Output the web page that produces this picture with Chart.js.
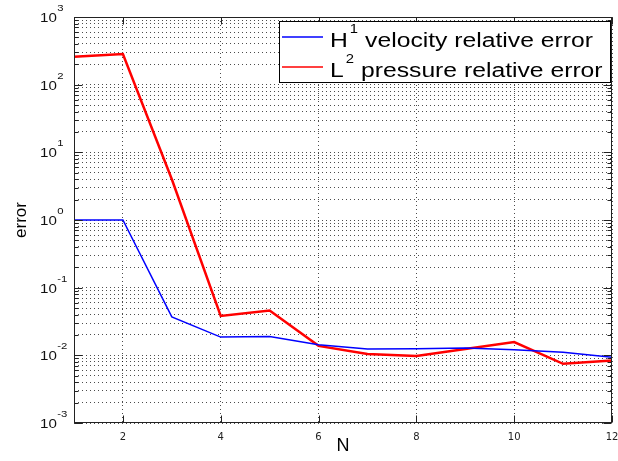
<!DOCTYPE html>
<html><head><meta charset="utf-8">
<script src="https://cdn.jsdelivr.net/npm/chart.js@4/dist/chart.umd.min.js"></script>
<style>html,body{margin:0;padding:0;background:#fff;}#wrap{width:618px;height:461px;}</style>
</head><body><div id="wrap"><canvas id="c" width="618" height="461"></canvas></div>
<script>
// ---- data ----
const N = [1, 2, 3, 4, 5, 6, 7, 8, 9, 10, 11, 12];
const h1Err = [1.0, 1.0, 0.037, 0.0186, 0.019, 0.0143, 0.0124, 0.0125, 0.0128, 0.0121, 0.0111, 0.0094];
const l2Err = [259, 284, 4.0, 0.0383, 0.0459, 0.0138, 0.0105, 0.0098, 0.0124, 0.0157, 0.0075, 0.0084];
const xTicks = [2, 4, 6, 8, 10, 12];
const yDecades = [-3, -2, -1, 0, 1, 2, 3];
const seriesNames = ['H\u00b9 velocity relative error', 'L\u00b2 pressure relative error'];
const legendBase = ['H', 'L'];
const legendSup = ['1', '2'];
const legendRest = ['velocity relative error', 'pressure relative error'];
const seriesColors = ['#0000ff', '#ff0000'];
const xTitle = 'N';
const yTitle = 'error';

const FONT = '"Liberation Sans", Arial, sans-serif';
const SX = 1.26;   // horizontal stretch seen in the reference (tick labels)
const SXL = 1.235; // legend text stretch

function stretchedText(ctx, str, x, y, font, sx) {
  ctx.save();
  ctx.font = font;
  const w = ctx.measureText(str).width * sx;
  ctx.translate(x, y);
  ctx.scale(sx, 1);
  ctx.fillText(str, 0, 0);
  ctx.restore();
  return w;
}

const decor = {
  id: 'decor',
  afterDraw(chart) {
    const {ctx, chartArea: a, scales: {x, y}} = chart;
    ctx.save();
    ctx.strokeStyle = '#222';
    ctx.lineWidth = 1;
    const L = Math.round(a.left) + 0.5, R = Math.round(a.right) - 0.5;
    const T = Math.round(a.top) + 0.5, B = Math.round(a.bottom) - 0.5;
    ctx.beginPath();
    y.ticks.forEach(t => {
      const lg = Math.log10(t.value);
      const major = Math.abs(lg - Math.round(lg)) < 1e-9;
      const len = major ? 8 : 4;
      const py = Math.round(y.getPixelForValue(t.value)) + 0.5;
      ctx.moveTo(L, py); ctx.lineTo(L + len, py);
      ctx.moveTo(R, py); ctx.lineTo(R - len, py);
    });
    x.ticks.forEach(t => {
      const px = Math.round(x.getPixelForValue(t.value)) + 0.5;
      ctx.moveTo(px, B); ctx.lineTo(px, B - 7);
      ctx.moveTo(px, T); ctx.lineTo(px, T + 7);
    });
    ctx.stroke();
    ctx.strokeRect(L, T, R - L, B - T);

    // y tick labels 10^e
    ctx.fillStyle = '#111';
    ctx.textBaseline = 'alphabetic';
    ctx.textAlign = 'left';
    yDecades.forEach(e => {
      const py = y.getPixelForValue(Math.pow(10, e));
      const w = stretchedText(ctx, '10', 40, py + 5, '12px ' + FONT, SX);
      stretchedText(ctx, String(e), 40 + w + 0.5, py - 6, '9px ' + FONT, SX);
    });

    // legend box
    const bx = 279, by = Math.round(a.top) + 4, bw = Math.round(a.right) - 2 - bx, bh = 61;
    ctx.fillStyle = '#fff';
    ctx.fillRect(bx, by, bw, bh);
    ctx.strokeStyle = '#000';
    ctx.strokeRect(bx + 0.5, by + 0.5, bw, bh);
    chart.data.datasets.forEach((ds, i) => {
      const base = by + 26 + i * 30;
      ctx.strokeStyle = ds.borderColor;
      ctx.lineWidth = 1.5;
      ctx.beginPath();
      ctx.moveTo(282, base - 10);
      ctx.lineTo(323, base - 10);
      ctx.stroke();
      ctx.fillStyle = '#000';
      let tx = 330;
      tx += stretchedText(ctx, legendBase[i], tx, base, '20px ' + FONT, SXL);
      tx += 2;
      tx += stretchedText(ctx, legendSup[i], tx, base - 14, '12px ' + FONT, SXL);
      tx += 7;
      stretchedText(ctx, legendRest[i], tx, base, '20px ' + FONT, SXL);
    });
    ctx.restore();
  }
};

new Chart(document.getElementById('c'), {
  type: 'line',
  data: {
    datasets: [
      {label: seriesNames[0], data: N.map((n, i) => ({x: n, y: h1Err[i]})), borderColor: seriesColors[0], backgroundColor: seriesColors[0], borderWidth: 1.5, pointRadius: 0, tension: 0, fill: false},
      {label: seriesNames[1], data: N.map((n, i) => ({x: n, y: l2Err[i]})), borderColor: seriesColors[1], backgroundColor: seriesColors[1], borderWidth: 2.5, pointRadius: 0, tension: 0, fill: false}
    ]
  },
  options: {
    responsive: false,
    animation: false,
    devicePixelRatio: 1,
    layout: {padding: {top: 17, right: 6, left: 0, bottom: 0}},
    plugins: {legend: {display: false}, tooltip: {enabled: false}},
    scales: {
      x: {
        type: 'linear', min: 1, max: 12,
        afterBuildTicks: s => { s.ticks = xTicks.map(v => ({value: v})); },
        afterFit: s => { s.height = 38; s.paddingLeft = 0; s.paddingRight = 0; },
        grid: {color: 'rgba(0,0,0,0.7)', lineWidth: 1, drawTicks: false},
        border: {display: false, dash: [1, 3]},
        ticks: {color: '#222', padding: 8, maxRotation: 0, autoSkip: false, font: {family: 'DejaVu Sans', size: 10}},
        title: {display: true, text: xTitle, color: '#000', font: {family: 'Liberation Sans', size: 18}, padding: {top: 0, bottom: 4}}
      },
      y: {
        type: 'logarithmic', min: 0.001, max: 1000,
        afterBuildTicks: s => {
          const t = [];
          for (let e = -3; e < 3; e++) for (let k = 1; k < 10; k++) t.push({value: Number((k * Math.pow(10, e)).toPrecision(3))});
          t.push({value: 1000});
          s.ticks = t;
        },
        afterFit: s => { s.width = 74; s.paddingTop = 0; s.paddingBottom = 0; },
        grid: {color: 'rgba(0,0,0,0.7)', lineWidth: 1, drawTicks: false},
        border: {display: false, dash: [1, 3]},
        ticks: {display: false},
        title: {display: true, text: yTitle, color: '#000', font: {family: 'Liberation Sans', size: 17}, padding: {top: 11, bottom: 0}}
      }
    }
  },
  plugins: [decor]
});
</script>
</body></html>
